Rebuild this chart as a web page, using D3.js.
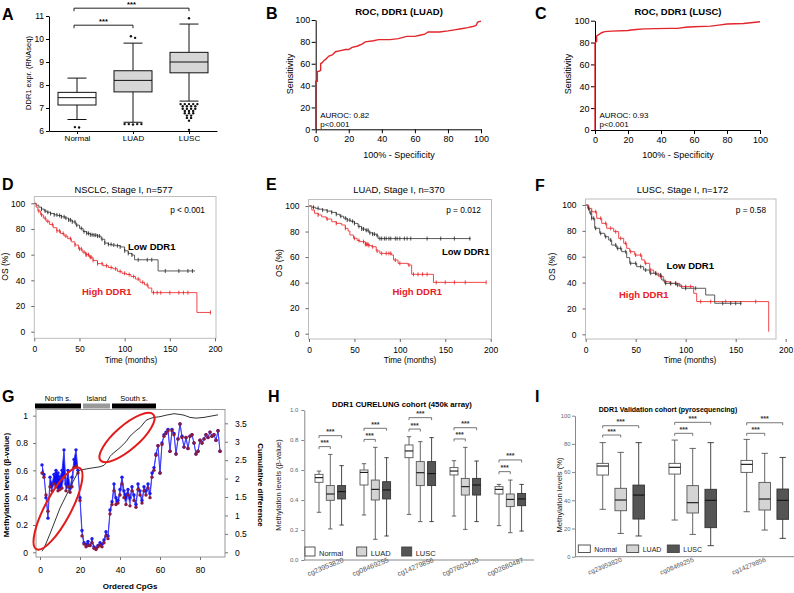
<!DOCTYPE html>
<html><head><meta charset="utf-8">
<script src="https://cdn.jsdelivr.net/npm/d3@7"></script>
<style>body{margin:0;background:#fff} svg{display:block;font-family:"Liberation Sans",Arial,sans-serif}</style>
</head><body><svg id="c" width="794" height="593"></svg>
<script>
// ================= DATA =================
// Panel A
const aCategories = ["Normal","LUAD","LUSC"];
const aLow = [6.5, 6.38, 7.3];
const aQ1 = [7.13, 7.7, 8.53];
const aMedian = [7.45, 8.2, 9.0];
const aQ3 = [7.68, 8.62, 9.42];
const aHigh = [8.3, 9.82, 10.65];
const aOutliers = [
  [6.17, 6.15],
  [10.12, 10.05, 6.3, 6.3, 6.28, 6.3, 6.3],
  [10.9, 7.17,7.17,7.17,7.17,7.17, 7.08,7.08,7.08,7.08, 6.97,6.97,6.97,6.97, 6.87,6.87,6.87, 6.77,6.77,6.77, 6.67,6.67, 6.57,6.57, 6.45, 6.05]
];
const aYTicks = [6,7,8,9,10,11];

// Panels B, C (ROC)
const rocTicks = [0,20,40,60,80,100];
const bFpr = [0,0,1,1,2,3,3,4,5,6,8,10,12,15,18,20,22,25,28,30,35,38,45,50,55,60,63,66,68,75,80,84,88,92,95,97,98,100];
const bTpr = [0,44,44,53,53,54,60,61,63,64,67,68,71,72,73,73,75,76,78,80,81,82,82,83,85,85,86,87,89,89,90,91,92,93,94,95,98,99];
const cFpr = [0,0,1,1,2,3,4,6,10,20,22,25,30,45,50,55,60,70,75,80,90,100];
const cTpr = [0,80,81,86,87,88,89,90,90.5,91,91.5,92,92.5,93,93,94,94.5,95,96,97,97.5,99];

// Panels D, E, F (Kaplan-Meier)
const kmXTicks = [0,50,100,150,200];
const kmYTicks = [0,20,40,60,80,100];
const dLowT = [0,2,5,8,11,14,18,22,26,30,34,38,42,46,50,54,58,62,66,70,74,78,82,86,90,95,100,104,108,111,137,178];
const dLowS = [100,98.5,97,95.5,94,93,92,91,90.5,89.5,88.5,87,85.5,83,80.5,78,76.6,75.5,75.2,74.5,72,69,68,67.5,67,66,63,61,59.7,56,47.3,47.3];
const dHighT = [0,2,4,7,10,13,17,21,25,29,33,37,41,45,49,53,57,61,65,70,76,82,87,92,97,102,107,112,117,122,126,130,180,195];
const dHighS = [100,97,94,91,88.5,86,83.5,81,78.5,76.5,74.5,72.5,70,67.5,64.5,62,60,58,55.5,53,51.4,50,49,47,45.5,44.5,43,41,38.5,36.5,34,30.4,15,15];
const dLowCens = [8,12,15,18,22,25,28,30,33,35,38,40,42,45,47,52,55,58,60,62,64,66,68,70,72,75,78,82,85,88,92,95,100,104,108,115,125,130,145,160,170,175];
const dHighCens = [5,8,12,15,20,25,28,32,35,40,45,50,52,55,57,58,60,62,63,65,70,75,80,85,90,95,100,105,110,115,120,125,132,136,140,150,160,165,170,195];
const eLowT = [0,3,7,11,15,20,25,30,34,38,42,46,50,54,58,62,66,70,74,76,178];
const eLowS = [100,99,98.2,97.5,96.9,96,95,93.5,92,90.5,89,88,86.4,84,82,81,79,78,77,74.5,74.5];
const eHighT = [0,3,6,10,14,19,25,30,36,40,43,45,49,53,56,62,66,69,74,78,91,93,98,109,113,137,195];
const eHighS = [100,96.9,94.3,93,91.5,89.8,87.7,86.4,85.1,82.5,80.4,77.3,74.7,73,72.1,70,69,68.1,64.8,62.9,61.6,57.7,55.1,53.8,46.5,40.2,40.2];
const eLowCens = [5,10,15,20,25,30,35,40,42,45,48,50,55,58,60,63,65,67,70,72,75,78,80,83,85,88,90,95,97,100,105,108,112,130,145,160,177];
const eHighCens = [10,20,30,40,50,55,60,62,63,64,65,66,70,75,80,85,88,90,95,100,110,115,120,125,130,140,150,160,172,195];
const fLowT = [0,2,4,6,9,14,19,23,26,31,36,41,44,51,58,64,71,76,79,91,96,120,129,156];
const fLowS = [100,97.4,93.6,89.7,82,78.1,75.5,72.9,69,66.5,63.9,59.3,54.9,52.3,49.7,47.2,45.9,42,39.4,38.1,35.6,30.4,24,24];
const fHighT = [0,3,6,11,16,21,28,33,38,41,44,49,56,59,64,68,73,78,84,94,108,111,183];
const fHighS = [100,97.4,94.8,89.7,85.8,82,79.4,74.2,70.4,66.5,63.9,61.3,57.5,54.9,49.7,47.2,44.6,40.7,39.4,36.9,31.7,25.3,2];
const fLowCens = [3,5,6,8,10,15,20,25,30,32,35,40,45,50,55,60,65,70,75,80,85,90,92,100,110,137,145,150,155];
const fHighCens = [3,6,10,15,20,25,30,35,40,45,50,55,60,65,70,75,80,85,90,100,105,115,125,140,170];

// Panel G (methylation along ordered CpGs)
const gNormal = [0.64,0.57,0.40,0.25,0.55,0.50,0.57,0.60,0.58,0.55,0.60,0.75,0.50,0.60,0.47,0.55,0.68,0.75,0.60,0.40,
  0.16,0.07,0.06,0.08,0.05,0.10,0.04,0.03,0.05,0.07,0.06,0.09,0.15,0.12,0.31,0.37,0.50,0.40,0.38,0.46,
  0.55,0.45,0.42,0.46,0.40,0.48,0.42,0.35,0.50,0.45,0.38,0.48,0.45,0.50,0.43,0.58,0.62,0.72,0.78,0.58,
  0.80,0.86,0.88,0.90,0.74,0.90,0.87,0.72,0.83,0.94,0.85,0.77,0.84,0.76,0.85,0.86,0.80,0.72,0.74,0.82,
  0.80,0.83,0.86,0.84,0.88,0.85,0.86,0.82,0.89,0.74];
const gTumor = [0.58,0.55,0.42,0.30,0.48,0.45,0.50,0.48,0.45,0.46,0.47,0.55,0.45,0.48,0.44,0.48,0.62,0.63,0.58,0.38,
  0.12,0.06,0.04,0.05,0.05,0.07,0.03,0.02,0.04,0.05,0.04,0.07,0.12,0.10,0.28,0.35,0.45,0.35,0.36,0.42,
  0.50,0.40,0.35,0.42,0.34,0.45,0.38,0.33,0.46,0.42,0.36,0.45,0.42,0.47,0.40,0.55,0.60,0.71,0.78,0.58,
  0.79,0.85,0.87,0.89,0.74,0.89,0.86,0.72,0.83,0.94,0.84,0.77,0.84,0.76,0.85,0.86,0.80,0.72,0.74,0.82,
  0.80,0.83,0.86,0.84,0.88,0.85,0.86,0.82,0.89,0.74];
const gCumX = [1,2,5,10,15,19,20,25,30,32,33,34,35,36,38,40,43,45,48,50,53,55,57,60,63,67,70,72,75,78,82,86,89];
const gCumY = [0.03,0.11,0.5,1.2,1.75,2.18,2.23,2.28,2.32,2.36,2.42,2.5,2.6,2.66,2.75,2.84,3.0,3.15,3.3,3.38,3.58,3.63,3.66,3.68,3.72,3.76,3.74,3.72,3.66,3.64,3.66,3.7,3.73];
const gLeftTicks = [0,0.2,0.4,0.6,0.8,1];
const gRightTicks = [0,0.5,1,1.5,2,2.5,3,3.5];
const gXTicks = [0,20,40,60,80];
const gRegions = ["North s.","Island","South s."];
const gRegionStart = [-2.5, 21.5, 36];
const gRegionEnd = [20.5, 35, 58];
const gEllipseCpG = [9, 43.5];
const gEllipseBeta = [0.32, 0.84];

// Panel H (CURELUNG 450k)  stats = [low, q1, median, q3, high]
const hProbes = ["cg23953820","cg08469255","cg14279856","cg07603420","cg02680487"];
const hGroups = ["Normal","LUAD","LUSC"];
const hNormal = [[0.318,0.518,0.549,0.571,0.593],[0.30,0.50,0.584,0.60,0.642],[0.304,0.682,0.727,0.767,0.822],[0.293,0.567,0.593,0.616,0.662],[0.229,0.44,0.471,0.489,0.504]];
const hLUAD = [[0.207,0.398,0.44,0.496,0.704],[0.138,0.40,0.471,0.533,0.751],[0.256,0.496,0.582,0.656,0.789],[0.204,0.433,0.489,0.544,0.751],[0.182,0.356,0.404,0.44,0.533]];
const hLUSC = [[0.233,0.407,0.456,0.496,0.629],[0.16,0.407,0.467,0.522,0.682],[0.256,0.496,0.576,0.656,0.816],[0.256,0.433,0.50,0.544,0.66],[0.193,0.362,0.407,0.444,0.504]];
const hSigLUAD = [0.756,0.804,0.873,0.807,0.589];
const hSigLUSC = [0.829,0.878,0.949,0.882,0.667];
const hYTicks = [0,0.2,0.4,0.6,0.8,1.0];

// Panel I (validation, pyrosequencing)
const iProbes = ["cg23953820","cg08469255","cg14279856"];
const iNormal = [[33.6,57.9,64.3,66.2,80.9],[26,58.6,63.4,66.2,82.7],[31.9,59.8,65.5,68.3,83.2]];
const iLUAD = [[16.5,32.6,40.2,48.5,74],[15.8,31,38.3,50.4,76.8],[18.9,33.1,40.9,52.7,73.3]];
const iLUSC = [[14.7,26.7,43.7,50.8,80.9],[7.8,20.6,40,47.8,80.9],[13,26.5,40,48,70.4]];
const iSigLUAD = [86.3,87.5,87.5];
const iSigLUSC = [92.9,95.3,95];
const iYTicks = [0,20,40,60,80,100];

// ================= DRAWING =================
const FONT = "'Liberation Sans', Arial, sans-serif";
const svg = d3.select("#c");
svg.append("rect").attr("width",794).attr("height",593).attr("fill","#fff");

function txt(x,y,s,o={}){
  const t = svg.append("text").attr("x",x).attr("y",y).text(s)
    .attr("font-size",o.size||9).attr("fill",o.fill||"#000")
    .attr("text-anchor",o.anchor||"start").attr("font-family",FONT);
  if(o.bold) t.attr("font-weight","bold");
  if(o.rotate!=null) t.attr("transform",`rotate(${o.rotate},${x},${y})`);
  return t;
}
function styleAxis(g,size,tcol,lcol){
  g.attr("font-size",size).attr("font-family",FONT);
  g.selectAll("text").attr("fill",tcol);
  g.selectAll("line,path").attr("stroke",lcol);
}
function zip(a,b){return a.map((v,i)=>[v,b[i]]);}

// Panel letters
[["A",2,20],["B",266,19],["C",535,19],["D",2,190],["E",266,190],["F",535,191],["G",2,402],["H",268,402],["I",535,402]]
  .forEach(d=>txt(d[1],d[2],d[0],{size:16,bold:true}));

// ---------- Panel A ----------
(function(){
  const y = d3.scaleLinear().domain([6,11]).range([131,16]);
  const x = d3.scalePoint().domain(aCategories).range([49,217]).padding(0.5);
  const gy = svg.append("g").attr("transform","translate(49,0)")
    .call(d3.axisLeft(y).tickValues(aYTicks).tickSize(3).tickPadding(2).tickSizeOuter(0).tickFormat(d3.format("d")));
  styleAxis(gy,8.5,"#000","#000");
  const gx = svg.append("g").attr("transform","translate(0,131)")
    .call(d3.axisBottom(x).tickSize(3).tickPadding(1.8).tickSizeOuter(0));
  styleAxis(gx,8,"#000","#000");
  txt(31,73,"DDR1 expr. (RNAseq)",{size:7.5,anchor:"middle",rotate:-90});
  const bw=38, cw=19;
  aCategories.forEach((c,i)=>{
    const cx=x(c);
    const g=svg.append("g").attr("stroke","#111").attr("stroke-width",1);
    g.append("line").attr("x1",cx).attr("x2",cx).attr("y1",y(aLow[i])).attr("y2",y(aQ1[i]));
    g.append("line").attr("x1",cx).attr("x2",cx).attr("y1",y(aQ3[i])).attr("y2",y(aHigh[i]));
    g.append("line").attr("x1",cx-cw/2).attr("x2",cx+cw/2).attr("y1",y(aLow[i])).attr("y2",y(aLow[i]));
    g.append("line").attr("x1",cx-cw/2).attr("x2",cx+cw/2).attr("y1",y(aHigh[i])).attr("y2",y(aHigh[i]));
    g.append("rect").attr("x",cx-bw/2).attr("width",bw).attr("y",y(aQ3[i])).attr("height",y(aQ1[i])-y(aQ3[i]))
      .attr("fill",i===0?"#fff":"#d6d6d6");
    g.append("line").attr("x1",cx-bw/2).attr("x2",cx+bw/2).attr("y1",y(aMedian[i])).attr("y2",y(aMedian[i]));
    const groups = d3.group(aOutliers[i], v=>Math.round(v*10));
    groups.forEach(vals=>{
      vals.forEach((v,k)=>{
        const off=(k-(vals.length-1)/2)*4.2;
        svg.append("circle").attr("cx",cx+off).attr("cy",y(v)).attr("r",1.2).attr("fill","#111");
      });
    });
  });
  const brackets=[["Normal","LUAD",10.6],["Normal","LUSC",11.34]];
  brackets.forEach(b=>{
    const x1=x(b[0])-3,x2=x(b[1]),yy=y(b[2]);
    svg.append("path").attr("d",`M${x1},${yy+3}V${yy}H${x2}V${yy+3}`).attr("fill","none").attr("stroke","#222");
    txt((x1+x2)/2,yy-1,"***",{size:7.5,anchor:"middle",bold:true});
  });
})();

// ---------- ROC panels ----------
function roc(cfg){
  const x=d3.scaleLinear().domain([0,100]).range(cfg.xr);
  const y=d3.scaleLinear().domain([0,100]).range(cfg.yr);
  const gx=svg.append("g").attr("transform",`translate(0,${cfg.yr[0]})`)
    .call(d3.axisBottom(x).tickValues(rocTicks).tickSize(4).tickPadding(2.5).tickSizeOuter(0));
  styleAxis(gx,9,"#000","#000");
  const gy=svg.append("g").attr("transform",`translate(${cfg.xr[0]},0)`)
    .call(d3.axisLeft(y).tickValues(rocTicks).tickSize(4).tickPadding(1.5).tickSizeOuter(0));
  styleAxis(gy,9,"#000","#000");
  svg.append("path").datum(zip(cfg.fpr,cfg.tpr))
    .attr("d",d3.line().x(d=>x(d[0])).y(d=>y(d[1])))
    .attr("fill","none").attr("stroke","#e3262b").attr("stroke-width",1.4);
  txt(cfg.tx,15,cfg.title,{size:9.5,bold:true,anchor:"middle"});
  txt(cfg.tx,158,"100% - Specificity",{size:9,anchor:"middle"});
  txt(cfg.ylx,74,"Sensitivity",{size:9,anchor:"middle",rotate:-90});
  txt(cfg.xr[0]+4.5,117.5,cfg.auc,{size:8});
  txt(cfg.xr[0]+4.5,126.5,"p<0.001",{size:8});
}
roc({xr:[315.7,481],yr:[129.3,20],fpr:bFpr,tpr:bTpr,title:"ROC, DDR1 (LUAD)",tx:399,ylx:292.5,auc:"AUROC: 0.82"});
roc({xr:[595,760],yr:[130,20.7],fpr:cFpr,tpr:cTpr,title:"ROC, DDR1 (LUSC)",tx:678,ylx:571,auc:"AUROC: 0.93"});

// ---------- KM panels ----------
function stepVal(T,S,t){let s=S[0];for(let i=0;i<T.length;i++){if(T[i]<=t)s=S[i];}return s;}
function km(cfg){
  const x=d3.scaleLinear().domain([0,200]).range(cfg.xr);
  const y=d3.scaleLinear().domain([0,100]).range(cfg.yr);
  const [bx0,by0,bx1,by1]=cfg.box;
  svg.append("rect").attr("x",bx0).attr("y",by0).attr("width",bx1-bx0).attr("height",by1-by0)
    .attr("fill","none").attr("stroke","#bdbdbd").attr("stroke-width",1);
  const gy=svg.append("g").attr("transform",`translate(${bx0},0)`)
    .call(d3.axisLeft(y).tickValues(kmYTicks).tickSize(3).tickPadding(6));
  gy.select(".domain").remove(); styleAxis(gy,8.5,"#000","#666");
  const gx=svg.append("g").attr("transform",`translate(0,${by1})`)
    .call(d3.axisBottom(x).tickValues(kmXTicks).tickSize(3).tickPadding(4.5));
  gx.select(".domain").remove(); styleAxis(gx,8.5,"#000","#666");
  const line=d3.line().x(d=>x(d[0])).y(d=>y(d[1])).curve(d3.curveStepAfter);
  const curves=[
    {T:cfg.lowT,S:cfg.lowS,C:cfg.lowC,col:"#5a5a5a",mark:"#222"},
    {T:cfg.highT,S:cfg.highS,C:cfg.highC,col:"#f0474a",mark:"#e0191e"}
  ];
  if(cfg.highFirst===false) curves.reverse();
  curves.forEach(c=>{
    svg.append("path").datum(zip(c.T,c.S)).attr("d",line).attr("fill","none")
      .attr("stroke",c.col).attr("stroke-width",1);
    svg.append("g").selectAll("line").data(c.C).join("line")
      .attr("x1",t=>x(t)).attr("x2",t=>x(t))
      .attr("y1",t=>y(stepVal(c.T,c.S,t))-2).attr("y2",t=>y(stepVal(c.T,c.S,t))+2)
      .attr("stroke",c.mark).attr("stroke-width",0.8);
  });
  txt(cfg.titleX,193,cfg.title,{size:9.4,anchor:"middle"});
  txt(cfg.timeX,363,"Time (months)",{size:8.2,anchor:"middle"});
  txt(cfg.osX,cfg.osY,"OS (%)",{size:8.5,anchor:"middle",rotate:-90});
  txt(cfg.pX,cfg.pY,cfg.p,{size:8.3,anchor:"end"});
  txt(cfg.lowX,cfg.lowY,"Low DDR1",{size:9.5,bold:true});
  txt(cfg.highX,cfg.highY,"High DDR1",{size:9.5,bold:true,fill:"#e8201f"});
}
km({xr:[34.3,215],yr:[331.7,203.3],box:[34.3,196.5,216,338.3],
  lowT:dLowT,lowS:dLowS,lowC:dLowCens,highT:dHighT,highS:dHighS,highC:dHighCens,
  title:"NSCLC, Stage I, n=577",titleX:123.5,timeX:131,osX:8,osY:266.7,
  p:"p < 0.001",pX:205,pY:213,lowX:128,lowY:250,highX:82,highY:295});
km({xr:[309,490.7],yr:[333.7,206],box:[308.5,199.5,491.5,339],
  lowT:eLowT,lowS:eLowS,lowC:eLowCens,highT:eHighT,highS:eHighS,highC:eHighCens,
  title:"LUAD, Stage I, n=370",titleX:399,timeX:410,osX:281.5,osY:263,
  p:"p = 0.012",pX:481,pY:213,lowX:442,lowY:254.5,highX:392.5,highY:295});
km({xr:[585.7,785.7],yr:[334.3,205],box:[585.5,199,776,339],
  lowT:fLowT,lowS:fLowS,lowC:fLowCens,highT:fHighT,highS:fHighS,highC:fHighCens,highFirst:false,
  title:"LUSC, Stage I, n=172",titleX:682.5,timeX:690,osX:555,osY:266.7,
  p:"p = 0.58",pX:766,pY:213,lowX:666.5,lowY:269,highX:619,highY:297.5});

// ---------- Panel G ----------
(function(){
  const x=d3.scaleLinear().domain([0,90]).range([40,220]);
  const yl=d3.scaleLinear().domain([0,1]).range([552.3,415.7]);
  const yr=d3.scaleLinear().domain([0,3.5]).range([552.3,423.3]);
  const box=[36,409.5,225,557];
  const regCol=["#000","#999","#000"];
  gRegions.forEach((r,i)=>{
    svg.append("rect").attr("x",x(gRegionStart[i])).attr("y",403.5).attr("width",x(gRegionEnd[i])-x(gRegionStart[i])).attr("height",5)
      .attr("fill",regCol[i]);
    txt((x(gRegionStart[i])+x(gRegionEnd[i]))/2,401,r,{size:7.5,anchor:"middle"});
  });
  svg.append("rect").attr("x",box[0]).attr("y",box[1]).attr("width",box[2]-box[0]).attr("height",box[3]-box[1])
    .attr("fill","none").attr("stroke","#999");
  const gl=svg.append("g").attr("transform",`translate(${box[0]},0)`)
    .call(d3.axisLeft(yl).tickValues(gLeftTicks).tickSize(3).tickPadding(5).tickFormat(d=>String(d)));
  gl.select(".domain").remove(); styleAxis(gl,8.5,"#000","#777");
  const gr=svg.append("g").attr("transform",`translate(${box[2]},0)`)
    .call(d3.axisRight(yr).tickValues(gRightTicks).tickSize(3).tickPadding(7).tickFormat(d=>String(d)));
  gr.select(".domain").remove(); styleAxis(gr,8.5,"#000","#777");
  const gx=svg.append("g").attr("transform",`translate(0,${box[3]})`)
    .call(d3.axisBottom(x).tickValues(gXTicks).tickSize(3).tickPadding(7));
  gx.select(".domain").remove(); styleAxis(gx,8.5,"#000","#777");
  txt(9,485,"Methylation levels (β-value)",{size:8,bold:true,anchor:"middle",rotate:-90});
  txt(258,485,"Cumulative difference",{size:8,bold:true,anchor:"middle",rotate:90});
  txt(130,589,"Ordered CpGs",{size:8,bold:true,anchor:"middle"});
  const pts=gNormal.map((v,i)=>({c:i+1,n:v,t:gTumor[i]}));
  svg.append("path").datum(pts).attr("d",d3.area().x(d=>x(d.c)).y0(d=>yl(d.t)).y1(d=>yl(d.n)))
    .attr("fill","#0a0aff").attr("stroke","none");
  svg.append("path").datum(pts).attr("d",d3.line().x(d=>x(d.c)).y(d=>yl(d.t)))
    .attr("fill","none").attr("stroke","#6b6bff").attr("stroke-width",0.8);
  svg.append("path").datum(pts).attr("d",d3.line().x(d=>x(d.c)).y(d=>yl(d.n)))
    .attr("fill","none").attr("stroke","#3030ff").attr("stroke-width",0.9);
  svg.append("g").selectAll("circle").data(pts).join("circle")
    .attr("cx",d=>x(d.c)).attr("cy",d=>yl(d.n)).attr("r",1.7).attr("fill","#1c1cf0");
  svg.append("g").selectAll("circle").data(pts).join("circle")
    .attr("cx",d=>x(d.c)).attr("cy",d=>yl(d.t)).attr("r",1.7).attr("fill","#8a1a3e");
  svg.append("path").datum(zip(gCumX,gCumY)).attr("d",d3.line().x(d=>x(d[0])).y(d=>yr(d[1])))
    .attr("fill","none").attr("stroke","#333").attr("stroke-width",1);
  const ell=[[46,13,-62],[35,12,-41]];
  ell.forEach((e,i)=>{
    const cx=x(gEllipseCpG[i]), cy=yl(gEllipseBeta[i]);
    svg.append("ellipse").attr("cx",0).attr("cy",0).attr("rx",e[0]).attr("ry",e[1])
      .attr("transform",`translate(${cx},${cy}) rotate(${e[2]})`)
      .attr("fill","none").attr("stroke","#e21b1b").attr("stroke-width",2);
  });
})();

// ---------- Box-group panels H, I ----------
function boxGroups(cfg){
  const y=d3.scaleLinear().domain(cfg.ydom).range(cfg.yr);
  const x0=d3.scaleBand().domain(cfg.probes).range(cfg.bandRange).padding(0);
  const x1=d3.scalePoint().domain(hGroups).range([-cfg.off,cfg.off]);
  const series=[cfg.normal,cfg.luad,cfg.lusc];
  const fills=["#fff","#d4d4d4","#555"];
  const gy=svg.append("g").attr("transform",`translate(${cfg.axisX},0)`)
    .call(d3.axisLeft(y).tickValues(cfg.ticks).tickSize(3).tickPadding(cfg.tp).tickSizeOuter(0).tickFormat(cfg.fmt));
  styleAxis(gy,cfg.tickFont,"#666","#888");
  svg.append("line").attr("x1",cfg.axisX).attr("x2",cfg.axisEnd).attr("y1",cfg.yr[0]).attr("y2",cfg.yr[0]).attr("stroke","#888");
  txt(cfg.titleX,cfg.titleY,cfg.title,{size:cfg.titleSize,bold:true,anchor:"middle"});
  txt(cfg.ylabX,cfg.ylabY,cfg.ylab,{size:cfg.ylabSize,anchor:"middle",rotate:-90,fill:"#222"});
  cfg.probes.forEach((p,pi)=>{
    const gc=x0(p)+x0.bandwidth()/2;
    series.forEach((s,si)=>{
      const st=s[pi], cx=gc+x1(hGroups[si]), bw=cfg.bw, cw=cfg.bw*0.55;
      const g=svg.append("g").attr("stroke",si===2?"#333":"#555").attr("stroke-width",0.9);
      g.append("line").attr("x1",cx).attr("x2",cx).attr("y1",y(st[0])).attr("y2",y(st[4]));
      g.append("line").attr("x1",cx-cw/2).attr("x2",cx+cw/2).attr("y1",y(st[0])).attr("y2",y(st[0]));
      g.append("line").attr("x1",cx-cw/2).attr("x2",cx+cw/2).attr("y1",y(st[4])).attr("y2",y(st[4]));
      g.append("rect").attr("x",cx-bw/2).attr("width",bw).attr("y",y(st[3])).attr("height",y(st[1])-y(st[3])).attr("fill",fills[si]);
      g.append("line").attr("x1",cx-bw/2).attr("x2",cx+bw/2).attr("y1",y(st[2])).attr("y2",y(st[2])).attr("stroke","#111").attr("stroke-width",1.1);
    });
    [[1,cfg.sigLUAD[pi]],[2,cfg.sigLUSC[pi]]].forEach(b=>{
      const xa=gc+x1(hGroups[0]), xb=gc+x1(hGroups[b[0]]), yy=y(b[1]);
      svg.append("path").attr("d",`M${xa},${yy+2.5}V${yy}H${xb}V${yy+2.5}`).attr("fill","none").attr("stroke","#666").attr("stroke-width",0.9);
      txt((xa+xb)/2,yy-1.5,"***",{size:7,anchor:"middle",fill:"#333",bold:true});
    });
    const lx=gc+cfg.labOff, ly=cfg.labY;
    txt(lx,ly,p,{size:cfg.labSize,anchor:"middle",rotate:-22,fill:"#555"});
  });
  hGroups.forEach((gname,i)=>{
    svg.append("rect").attr("x",cfg.legX[i]).attr("y",cfg.legY).attr("width",cfg.legW).attr("height",cfg.legH)
      .attr("fill",fills[i]).attr("stroke","#444").attr("stroke-width",0.9);
    txt(cfg.legX[i]+cfg.legW+4,cfg.legY+cfg.legH-0.5,gname,{size:cfg.legSize,fill:"#222"});
  });
}
boxGroups({probes:hProbes,normal:hNormal,luad:hLUAD,lusc:hLUSC,sigLUAD:hSigLUAD,sigLUSC:hSigLUSC,
  ydom:[0,1],yr:[560,410],bandRange:[307.8,532.8],off:11.3,bw:8,axisX:304.3,axisEnd:534,
  ticks:hYTicks,tp:3,fmt:d3.format(".1f"),tickFont:6,
  title:"DDR1 CURELUNG cohort (450k array)",titleX:402,titleY:407,titleSize:7.8,
  ylab:"Methylation levels (β-value)",ylabX:281,ylabY:485,ylabSize:7.5,
  labOff:-4,labY:569,labSize:7,legX:[305,356.7,401.7],legY:547,legW:10,legH:9,legSize:7.5});
boxGroups({probes:iProbes,normal:iNormal,luad:iLUAD,lusc:iLUSC,sigLUAD:iSigLUAD,sigLUSC:iSigLUSC,
  ydom:[0,100],yr:[556.7,415.7],bandRange:[584.7,800.7],off:18,bw:11.5,axisX:575,axisEnd:794,
  ticks:iYTicks,tp:1.5,fmt:d3.format("d"),tickFont:5.8,
  title:"DDR1 Validation cohort (pyrosequencing)",titleX:668,titleY:412,titleSize:7,
  ylab:"Methylation levels (%)",ylabX:562,ylabY:495,ylabSize:7.7,
  labOff:-15,labY:568,labSize:6.5,legX:[578.3,626.7,667.3],legY:545,legW:12,legH:7.5,legSize:7});
</script></body></html>
